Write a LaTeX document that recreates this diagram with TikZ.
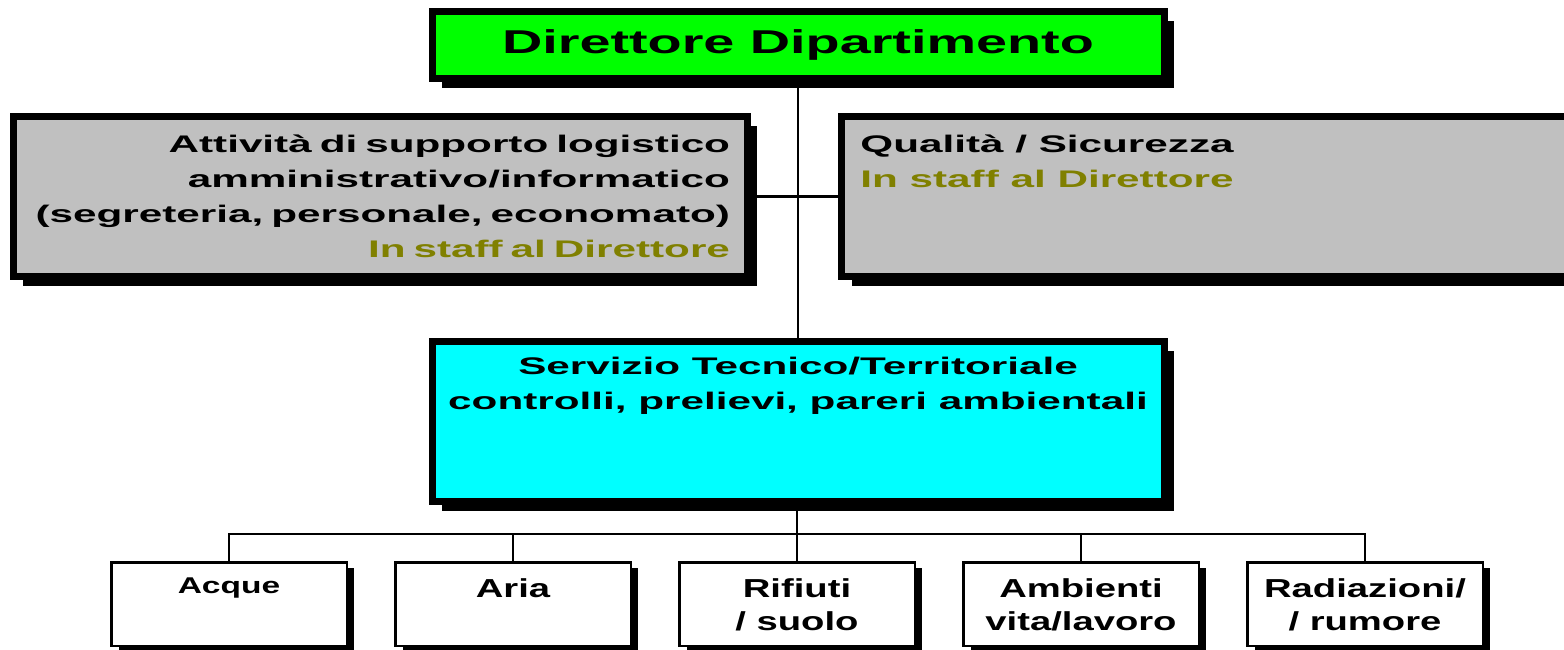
\documentclass[tikz,border=0pt]{standalone}
\usepackage{fontspec}
\usepackage{xcolor}
\usepackage{tikz}
\usetikzlibrary{shadows}
\newfontfamily\titlefont{Liberation Sans}[FakeStretch=1.69]
\newfontfamily\boxfont{Liberation Sans}[FakeStretch=1.76]
\newfontfamily\smallfont{Liberation Sans}[FakeStretch=1.47]
\definecolor{dirgreen}{RGB}{0,255,0}
\definecolor{staffgray}{RGB}{192,192,192}
\definecolor{servcyan}{RGB}{0,255,255}
\definecolor{staffolive}{RGB}{128,128,0}

\begin{document}
\begin{tikzpicture}[x=0.5pt,y=-0.5pt]
    \useasboundingbox (0,0) rectangle (1564,649);
    \clip (0,0) rectangle (1564,649);
    \tikzstyle{bigbox}=[rectangle, draw=black, line width=3.5pt, inner sep=0pt,
    drop shadow={shadow xshift=5pt, shadow yshift=-4.75pt, opacity=1, fill=black}]
    \tikzstyle{settore}=[rectangle, draw=black, fill=white, line width=1.25pt, inner sep=0pt,
    minimum width=117.75pt, minimum height=41.75pt,
    drop shadow={shadow xshift=3.75pt, shadow yshift=-3pt, opacity=1, fill=black}]
    \tikzstyle{boxtxt}=[inner sep=0pt, font=\boxfont\bfseries\fontsize{12}{17.5}\selectfont]
    \tikzstyle{settxt}=[inner sep=0pt, align=center, font=\smallfont\bfseries\fontsize{13}{16.5}\selectfont]
    \tikzstyle{conn}=[draw=black, line width=1.2pt]

    \node[bigbox, fill=dirgreen, minimum width=366pt, minimum height=33.25pt,
    font=\titlefont\bfseries\fontsize{16.5}{20}\selectfont](direttore) at (798,44.75){Direttore Dipartimento};

    \node[bigbox, fill=staffgray, minimum width=367pt, minimum height=80pt,
    text width=350pt, align=right, boxtxt](supporto) at (380,196.5){Attività di supporto logistico\\
    amministrativo/informatico\\
    (segreteria, personale, economato)\\
    \textcolor{staffolive}{In staff al Direttore}};

    \node[bigbox, fill=staffgray, minimum width=379.25pt,
    minimum height=80pt](qualita) at (1220.75,196.5){};
    \node[boxtxt, align=left, anchor=north west](qualitatxt) at (860,134.5){Qualità / Sicurezza\\
    \textcolor{staffolive}{In staff al Direttore}};

    \node[bigbox, fill=servcyan, minimum width=366pt,
    minimum height=80pt](servizio) at (798,421.5){};
    \node[boxtxt, align=center, anchor=north](serviziotxt) at (798,356.5){Servizio Tecnico/Territoriale\\
    controlli, prelievi, pareri ambientali};

    % settori sotto il servizio
    \foreach \nm [count=\i from 0] in {acque,aria,rifiuti,ambienti,radiazioni}
        \node[settore](\nm) at ({229+284*\i},604){};

    \node[settxt, anchor=base, font=\smallfont\bfseries\fontsize{11.4}{14}\selectfont](acquetxt) at (acque |- 0,593){Acque};
    \node[settxt, anchor=base](ariatxt) at (aria |- 0,597){Aria};
    \node[settxt, anchor=north](rifiutitxt) at (rifiuti |- 0,578){Rifiuti\\ / suolo};
    \node[settxt, anchor=north](ambientitxt) at (ambienti |- 0,578){Ambienti\\ vita/lavoro};
    \node[settxt, anchor=north](radiazionitxt) at (radiazioni |- 0,578){Radiazioni/\\ / rumore};

    \draw[conn] (direttore.south) -- (servizio.north);
    \draw[conn] (supporto.east) -- (qualita.west);
    \coordinate (bus) at (797,534);
    \draw[conn] (servizio.south -| bus) -- (bus);
    \foreach \nm in {acque,aria,rifiuti,ambienti,radiazioni}
        \draw[conn] (bus) -| (\nm.north);
\end{tikzpicture}
\end{document}
